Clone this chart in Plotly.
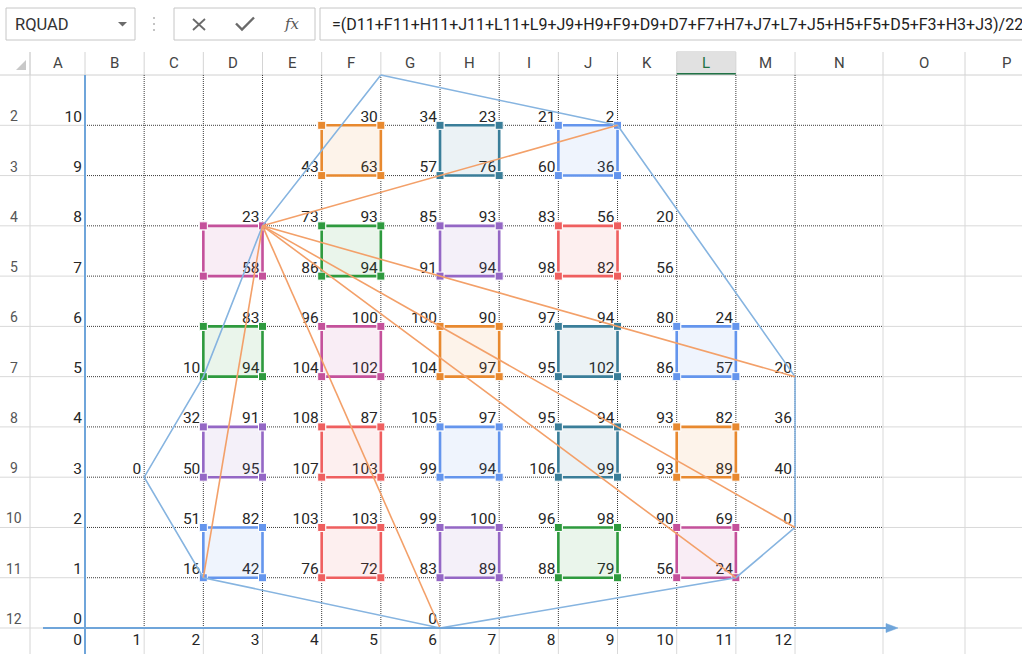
import plotly.graph_objects as go

W, H = 1022, 654
# pixel position of the chart origin and size of one unit in the screenshot
X0_PX, X_UNIT = 85.0, 59.17
Y0_PX, Y_UNIT = 628.0, 50.27

# ---------------- data ----------------
x_tick_labels = list(range(0, 13))          # row 13, under the x axis
y_tick_labels = list(range(10, -1, -1))     # column A, left of the y axis
cell_x = list(range(1, 13))                 # columns B..M  -> x = 1..12
N = None
row_y10 = [N, N, N, N, 30, 34, 23, 21, 2, N, N, N]
row_y9 = [N, N, N, 43, 63, 57, 76, 60, 36, N, N, N]
row_y8 = [N, N, 23, 73, 93, 85, 93, 83, 56, 20, N, N]
row_y7 = [N, N, 58, 86, 94, 91, 94, 98, 82, 56, N, N]
row_y6 = [N, N, 83, 96, 100, 100, 90, 97, 94, 80, 24, N]
row_y5 = [N, 10, 94, 104, 102, 104, 97, 95, 102, 86, 57, 20]
row_y4 = [N, 32, 91, 108, 87, 105, 97, 95, 94, 93, 82, 36]
row_y3 = [0, 50, 95, 107, 103, 99, 94, 106, 99, 93, 89, 40]
row_y2 = [N, 51, 82, 103, 103, 99, 100, 96, 98, 90, 69, 0]
row_y1 = [N, 16, 42, 76, 72, 83, 89, 88, 79, 56, 24, N]
row_y0 = [N, N, N, N, N, 0, N, N, N, N, N, N]
rows = [(10, row_y10), (9, row_y9), (8, row_y8), (7, row_y7), (6, row_y6), (5, row_y5),
        (4, row_y4), (3, row_y3), (2, row_y2), (1, row_y1), (0, row_y0)]

sq_x0 = [4, 6, 8, 2, 4, 6, 8, 2, 4, 6, 8, 10, 2, 4, 6, 8, 10, 2, 4, 6, 8, 10]
sq_y0 = [9, 9, 9, 7, 7, 7, 7, 5, 5, 5, 5, 5, 3, 3, 3, 3, 3, 1, 1, 1, 1, 1]
sq_color = ['orange', 'teal', 'blue',
            'pink', 'green', 'purple', 'red',
            'green', 'pink', 'orange', 'teal', 'blue',
            'purple', 'red', 'blue', 'teal', 'orange',
            'blue', 'red', 'purple', 'green', 'pink']

hull_x = [5, 9, 12, 12, 11, 6, 2, 1, 2, 3, 5]
hull_y = [11, 10, 5, 2, 1, 0, 1, 3, 5, 8, 11]

fan_from = (3, 8)
fan_to_x = [9, 12, 12, 11, 6, 2]
fan_to_y = [10, 5, 2, 1, 0, 1]

formula = "=(D11+F11+H11+J11+L11+L9+J9+H9+F9+D9+D7+F7+H7+J7+L7+J5+H5+F5+D5+F3+H3+J3)/22"
name_box = "RQUAD"
col_names = list("ABCDEFGHIJKLMNOP")
row_names = list(range(2, 13))

palette = {
    'orange': (232, 137, 47),
    'teal': (58, 126, 153),
    'blue': (100, 149, 237),
    'pink': (196, 81, 155),
    'green': (46, 154, 62),
    'purple': (148, 103, 197),
    'red': (239, 95, 95),
}

# ---------------- helpers ----------------
def px_x(v):
    return X0_PX + X_UNIT * v

def px_y(v):
    return Y0_PX - Y_UNIT * v

def dx(px):
    return (px - X0_PX) / X_UNIT

def dy(py):
    return (Y0_PX - py) / Y_UNIT

def fx(px):
    return px / W

def fy(py):
    return 1 - py / H

GRAY = '#d9d9d9'
TXT = '#262626'
FONT = 'Roboto'
AXIS_BLUE = '#6FA5DA'

fig = go.Figure()

# ---------------- cell texts (under the chart) ----------------
tx, ty, tt = [], [], []
for yv, vals in rows:
    for xv, val in zip(cell_x, vals):
        if val is not None:
            tx.append(xv - 3 / X_UNIT)
            ty.append(yv + 7.4 / Y_UNIT)
            tt.append(str(val))
for yv in y_tick_labels:
    tx.append(0 - 3 / X_UNIT)
    ty.append(yv + 7.4 / Y_UNIT)
    tt.append(str(yv))
for xv in x_tick_labels:
    tx.append(xv - 3 / X_UNIT)
    ty.append(-13.6 / Y_UNIT)
    tt.append(str(xv))
fig.add_trace(go.Scatter(x=tx, y=ty, text=tt, mode='text', textposition='middle left',
                         textfont=dict(family=FONT, size=15.5, color=TXT),
                         hoverinfo='skip', showlegend=False))

# ---------------- squares ----------------
for x0, y0, cname in zip(sq_x0, sq_y0, sq_color):
    r, g, b = palette[cname]
    col = f'rgb({r},{g},{b})'
    fig.add_trace(go.Scatter(
        x=[x0, x0 + 1, x0 + 1, x0, x0], y=[y0 + 1, y0 + 1, y0, y0, y0 + 1],
        mode='lines+markers', fill='toself', fillcolor=f'rgba({r},{g},{b},0.10)',
        line=dict(color=col, width=2.6),
        marker=dict(symbol='square', size=8, color=col, line=dict(color='white', width=1)),
        hoverinfo='skip', showlegend=False))

# ---------------- hull ----------------
fig.add_trace(go.Scatter(x=hull_x, y=hull_y, mode='lines',
                         line=dict(color='#86B4E0', width=1.6),
                         hoverinfo='skip', showlegend=False))

# ---------------- fan ----------------
fxs, fys = [], []
for a, b in zip(fan_to_x, fan_to_y):
    fxs += [fan_from[0], a, None]
    fys += [fan_from[1], b, None]
fig.add_trace(go.Scatter(x=fxs, y=fys, mode='lines',
                         line=dict(color='#F3A069', width=1.6),
                         hoverinfo='skip', showlegend=False))

# ---------------- spreadsheet chrome ----------------
shapes = []
annos = []

def pline(x0, y0, x1, y1, color=GRAY, width=1, dash=None, layer='below'):
    d = dict(type='line', xref='paper', yref='paper', x0=fx(x0), y0=fy(y0), x1=fx(x1), y1=fy(y1),
             line=dict(color=color, width=width), layer=layer)
    if dash:
        d['line']['dash'] = dash
    shapes.append(d)

def prect(x0, y0, x1, y1, line='#c6c6c6', fill=None, width=1):
    d = dict(type='rect', xref='paper', yref='paper', x0=fx(x0), y0=fy(y0), x1=fx(x1), y1=fy(y1),
             line=dict(color=line, width=width), layer='below')
    if fill:
        d['fillcolor'] = fill
    if line is None:
        d['line'] = dict(width=0)
    shapes.append(d)

def ppath(pts, fill=None, color='#666', width=0, closed=True, layer='below'):
    s = 'M ' + ' L '.join(f'{fx(a):.5f},{fy(b):.5f}' for a, b in pts)
    if closed:
        s += ' Z'
    d = dict(type='path', xref='paper', yref='paper', path=s, layer=layer,
             line=dict(color=color, width=width))
    if fill:
        d['fillcolor'] = fill
    shapes.append(d)

def ptext(px, py, s, size, color='#444', xanchor='center', family=FONT):
    annos.append(dict(xref='paper', yref='paper', x=fx(px), y=fy(py), text=s, showarrow=False,
                      xanchor=xanchor, yanchor='middle',
                      font=dict(family=family, size=size, color=color)))

# formula bar
prect(6, 8, 135, 40)
ptext(13, 24.5, name_box, 16.5, '#333', xanchor='left')
ppath([(118, 22), (127, 22), (122.5, 26.5)], fill='#6b6b6b')
for yy in (18, 24, 30):
    shapes.append(dict(type='circle', xref='paper', yref='paper', x0=fx(153), x1=fx(155),
                       y0=fy(yy - 1), y1=fy(yy + 1), fillcolor='#b0b0b0', line=dict(width=0)))
prect(174, 8, 315, 40)
pline(193, 19, 205, 30, color='#6a6a6a', width=1.8)
pline(205, 19, 193, 30, color='#6a6a6a', width=1.8)
ppath([(236, 23.5), (242, 29.5), (254, 17.5)], color='#6a6a6a', width=2.4, closed=False)
ptext(292, 24, '<i>fx</i>', 15, '#555', family='DejaVu Serif')
prect(320, 8, 1030, 40)
ptext(330, 24.5, formula, 16, '#222', xanchor='left')

# column header
col_edges = [30] + [px_x(k) for k in range(0, 13)] + [883, 965, 1047]
hl = col_names.index('L')
prect(col_edges[hl], 51, col_edges[hl + 1], 75, line=None, fill='#e1e1e1')
for e in col_edges:
    pline(e, 52, e, 75, color='#d4d4d4')
pline(col_edges[hl], 74, col_edges[hl + 1], 74, color='#217346', width=2.2)
for i, nm in enumerate(col_names):
    c = (col_edges[i] + col_edges[i + 1]) / 2
    ptext(c, 63, nm, 15, '#217346' if nm == 'L' else '#444')
ppath([(16, 70), (26, 70), (26, 60)], fill='#c8c8c8')
pline(0, 75, W, 75, color='#d0d0d0')

# row header and column A gridlines
pline(30, 52, 30, H, color='#d4d4d4')
for r in row_names:
    yb = px_y(12 - r)
    pline(0, yb, px_x(0), yb)
    ptext(14, yb - 9, str(r), 14, '#555')
    # gridlines right of column N
    pline(883, yb, W, yb)
pline(883, 75, 883, H)
pline(965, 75, 965, H)
# row 13 column gridlines
for k in range(1, 13):
    pline(px_x(k), px_y(0), px_x(k), H)

# dotted cell borders B2:N12 (in chart coordinates)
x_right_N = dx(883)
for k in range(1, 11):
    shapes.append(dict(type='line', xref='x', yref='y', x0=0, x1=x_right_N, y0=k, y1=k,
                       line=dict(color='#3a3a3a', width=1, dash='1px,1px'), layer='below'))
for k in range(1, 13):
    shapes.append(dict(type='line', xref='x', yref='y', x0=k, x1=k, y0=0, y1=11,
                       line=dict(color='#3a3a3a', width=1, dash='1px,1px'), layer='below'))

# chart axes (blue lines, x axis with arrow head)
shapes.append(dict(type='line', xref='x', yref='y', x0=0, x1=0, y0=dy(H), y1=11,
                   line=dict(color=AXIS_BLUE, width=2), layer='above'))
shapes.append(dict(type='line', xref='x', yref='y', x0=dx(43), x1=dx(888), y0=0, y1=0,
                   line=dict(color=AXIS_BLUE, width=2), layer='above'))
tip, base, half = dx(898), dx(886), 4.5 / Y_UNIT
shapes.append(dict(type='path', xref='x', yref='y', layer='above',
                   path=f'M {base},{half} L {tip},0 L {base},{-half} Z',
                   fillcolor=AXIS_BLUE, line=dict(color=AXIS_BLUE, width=0.5)))

fig.update_layout(
    width=W, height=H, margin=dict(l=0, r=0, t=0, b=0),
    paper_bgcolor='white', plot_bgcolor='white', showlegend=False,
    xaxis=dict(range=[dx(0), dx(W)], visible=False, fixedrange=True),
    yaxis=dict(range=[dy(H), dy(0)], visible=False, fixedrange=True),
    shapes=shapes, annotations=annos,
)

fig.write_html("out.html", config={'displayModeBar': False},
               post_script="document.body.style.margin='0px';document.body.style.overflow='hidden';")
